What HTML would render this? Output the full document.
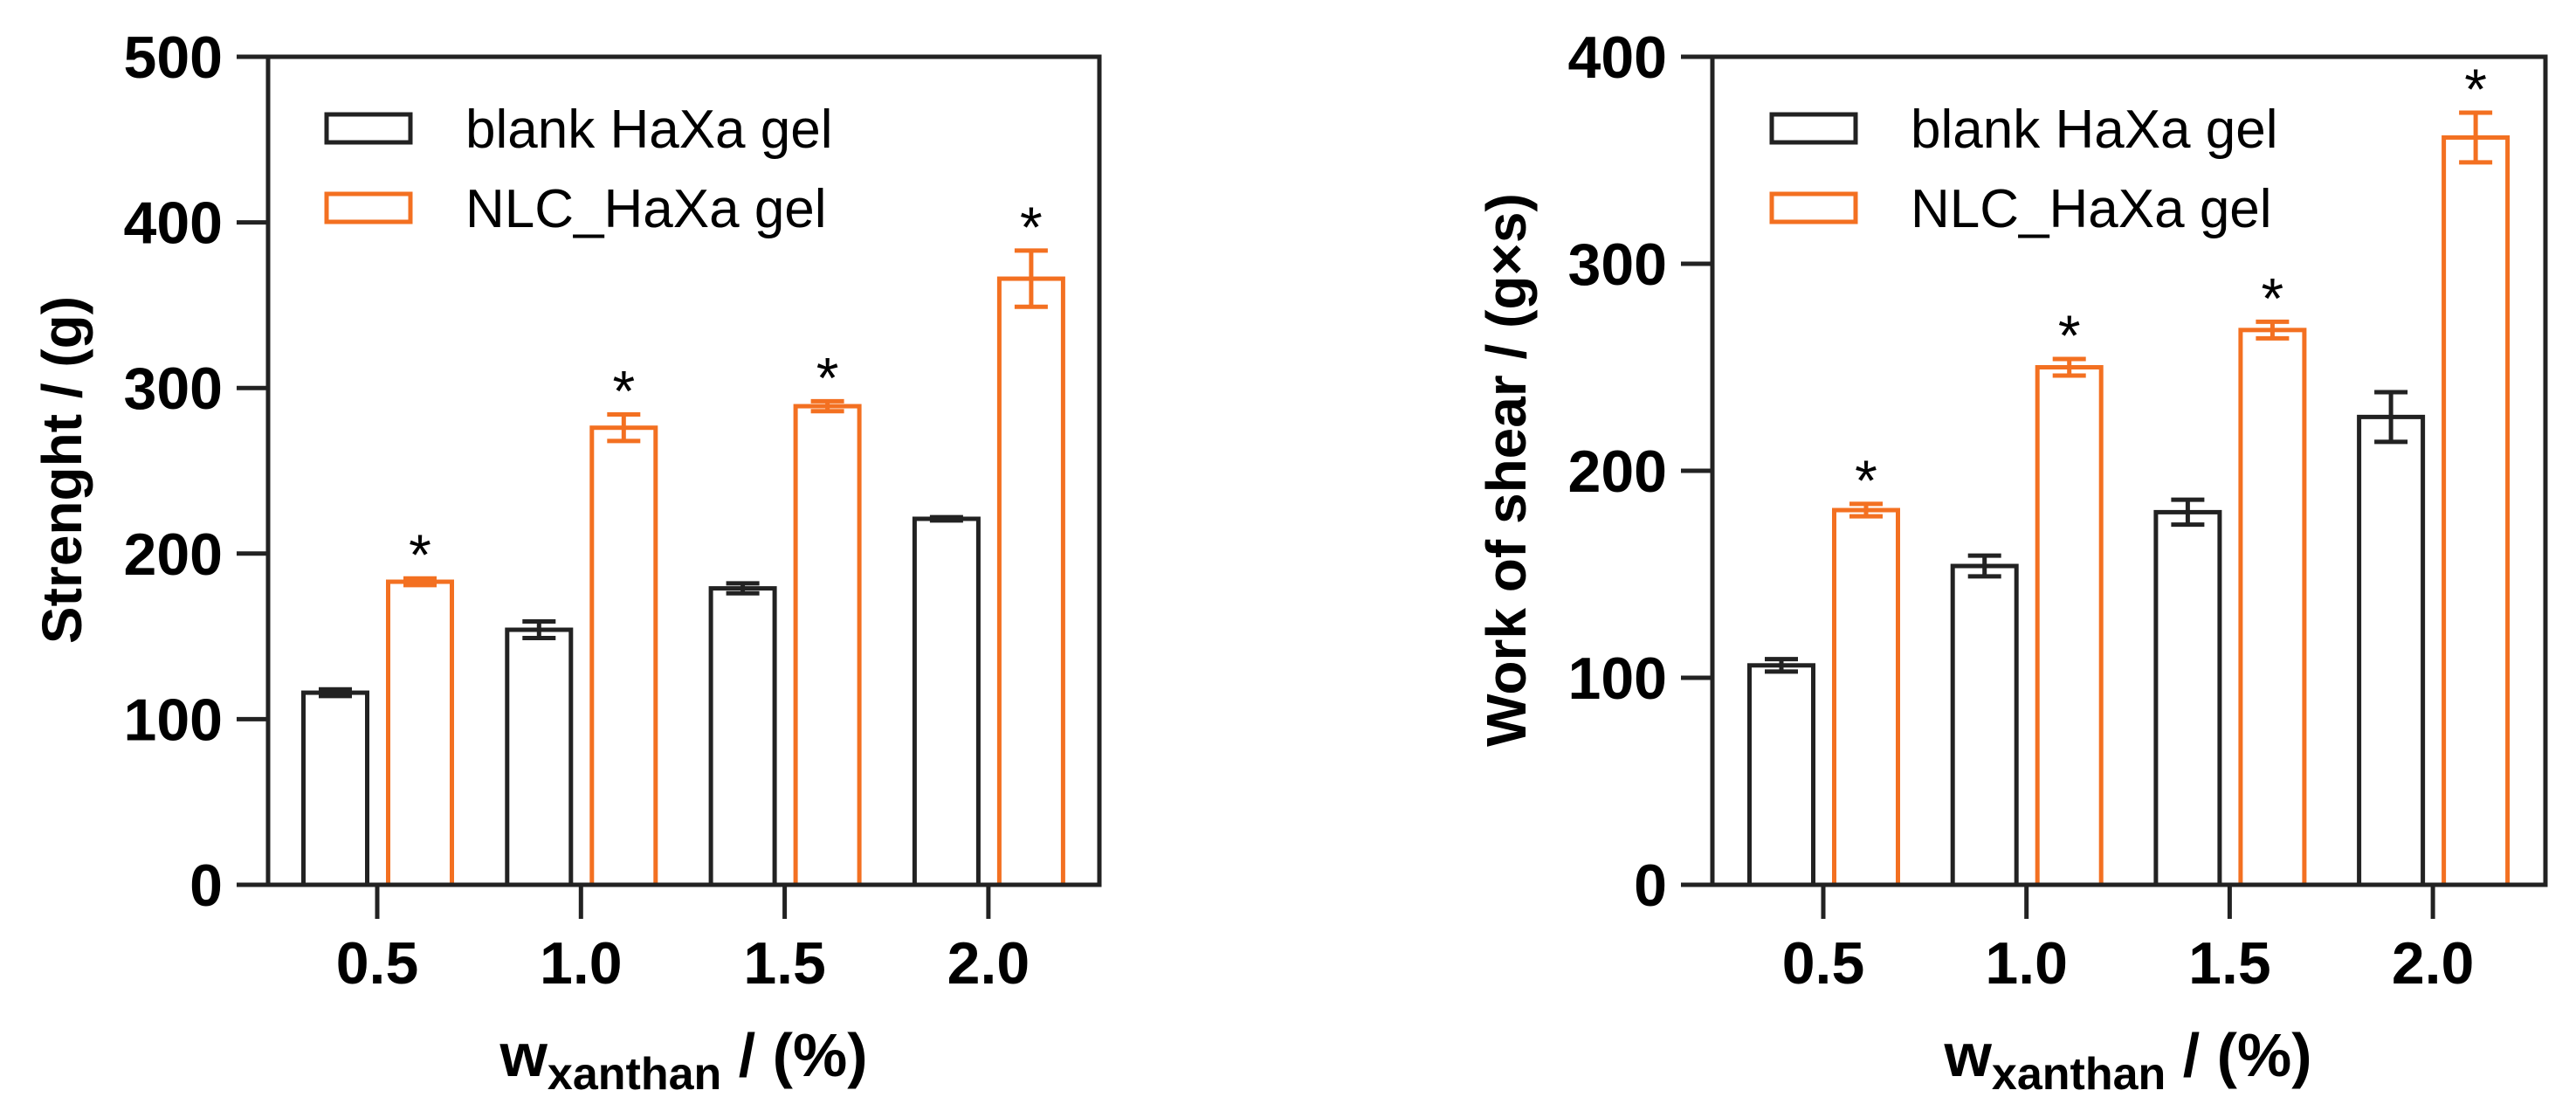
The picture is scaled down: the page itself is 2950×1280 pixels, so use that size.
<!DOCTYPE html>
<html><head><meta charset="utf-8"><style>
html,body{margin:0;padding:0;background:#fff;}
svg{display:block;}
text{font-family:"Liberation Sans",Arial,sans-serif;fill:#000;}
</style></head><body>
<svg id="fig" width="2950" height="1280" viewBox="0 0 2950 1280" xmlns="http://www.w3.org/2000/svg"></svg>
<script>
const categories = ["0.5","1.0","1.5","2.0"];
const strengthBlank = [116,154,179,221];
const strengthBlankErr = [2,5,3,1];
const strengthNlc = [183,276,289,366];
const strengthNlcErr = [2,8,3,17];
const strengthTicks = [0,100,200,300,400,500];
const shearBlank = [106,154,180,226];
const shearBlankErr = [3,5,6,12];
const shearNlc = [181,250,268,361];
const shearNlcErr = [3,4,4,12];
const shearTicks = [0,100,200,300,400];
const seriesNames = ["blank HaXa gel","NLC_HaXa gel"];

const NS = "http://www.w3.org/2000/svg";
const svg = document.getElementById('fig');
const ORANGE = "#f37021";
function mk(tag, attrs, parent){
  const e = document.createElementNS(NS, tag);
  for (const k in attrs) e.setAttribute(k, attrs[k]);
  (parent||svg).appendChild(e);
  return e;
}
function drawChart(cfg){
  const g = mk('g', {});
  
  
  const yMax = cfg.ticks[cfg.ticks.length-1];
  const y = v => cfg.bottom - (v / yMax) * (cfg.bottom - cfg.top);
  const x = i => cfg.x0 + i * cfg.step;
  const bw = 73;
  function bar(i, v, err, color, off, label){
    const cx = x(i) + off;
    const r = mk('rect', {x: cx - bw/2, y: y(v), width: bw, height: cfg.bottom - y(v), fill: 'none', stroke: color, 'stroke-width': 5}, g);
    
    
    const eb = mk('path', {d: `M${cx},${y(v+err)}V${y(v-err)}M${cx-19},${y(v+err)}H${cx+19}M${cx-19},${y(v-err)}H${cx+19}`, stroke: color, 'stroke-width': 5, fill: 'none'}, g);
    
    
    return cx;
  }
  for (let i = 0; i < categories.length; i++){
    bar(i, cfg.blank[i], cfg.blankErr[i], '#222', -48, 'blank');
    const cx = bar(i, cfg.nlc[i], cfg.nlcErr[i], ORANGE, 49, 'nlc');
    const st = mk('text', {x: cx, y: y(cfg.nlc[i] + cfg.nlcErr[i]) - 4, 'font-size': 66, 'text-anchor': 'middle'}, g);
    st.textContent = '*';
    
    
  }
  const fr = mk('rect', {x: cfg.left, y: cfg.top, width: cfg.right - cfg.left, height: cfg.bottom - cfg.top, fill: 'none', stroke: '#222', 'stroke-width': 5}, g);
  
  
  cfg.ticks.forEach(t => {
    const l = mk('line', {x1: cfg.left - 36, x2: cfg.left, y1: y(t), y2: y(t), stroke: '#222', 'stroke-width': 5}, g);
    
    
    const tx = mk('text', {x: cfg.left - 52, y: y(t) + 24, 'font-size': 68, 'font-weight': 'bold', 'text-anchor': 'end'}, g);
    tx.textContent = t;
    
    
  });
  categories.forEach((c, i) => {
    const l = mk('line', {x1: x(i), x2: x(i), y1: cfg.bottom, y2: cfg.bottom + 39, stroke: '#222', 'stroke-width': 5}, g);
    
    
    const tx = mk('text', {x: x(i), y: cfg.bottom + 113, 'font-size': 68, 'font-weight': 'bold', 'text-anchor': 'middle'}, g);
    tx.textContent = c;
    
    
  });
  const yt = mk('text', {x: 0, y: 0, 'font-size': 64, 'font-weight': 'bold', 'text-anchor': 'middle', transform: `translate(${cfg.ytX},${cfg.ytY}) rotate(-90)`}, g);
  yt.textContent = cfg.yTitle;
  
  
  const xt = mk('text', {x: cfg.xtX, y: 1232, 'font-size': 70, 'font-weight': 'bold', 'text-anchor': 'middle'}, g);
  
  
  xt.innerHTML = 'w<tspan font-size="52" dy="15">xanthan</tspan><tspan dy="-15"> / (%)</tspan>';
  const colors = ['#222', ORANGE];
  seriesNames.forEach((n, k) => {
    const cy = 147 + k * 91;
    const lr = mk('rect', {x: cfg.legX, y: cy - 16, width: 96, height: 32, fill: 'none', stroke: colors[k], 'stroke-width': 5}, g);
    
    
    const lt = mk('text', {x: cfg.legX + 159, y: cy + 22, 'font-size': 62}, g);
    lt.textContent = n;
    
    
  });
}
drawChart({name: 'strength-chart', left: 307, right: 1259, top: 65, bottom: 1013, x0: 432, step: 233.3,
  ticks: strengthTicks, blank: strengthBlank, blankErr: strengthBlankErr, nlc: strengthNlc, nlcErr: strengthNlcErr,
  yTitle: 'Strenght / (g)', ytX: 93, ytY: 538, xtX: 783, legX: 374});
drawChart({name: 'shear-chart', left: 1961, right: 2915, top: 65, bottom: 1013, x0: 2088, step: 232.7,
  ticks: shearTicks, blank: shearBlank, blankErr: shearBlankErr, nlc: shearNlc, nlcErr: shearNlcErr,
  yTitle: 'Work of shear / (g×s)', ytX: 1747, ytY: 538, xtX: 2437, legX: 2029});
</script>
</body></html>
